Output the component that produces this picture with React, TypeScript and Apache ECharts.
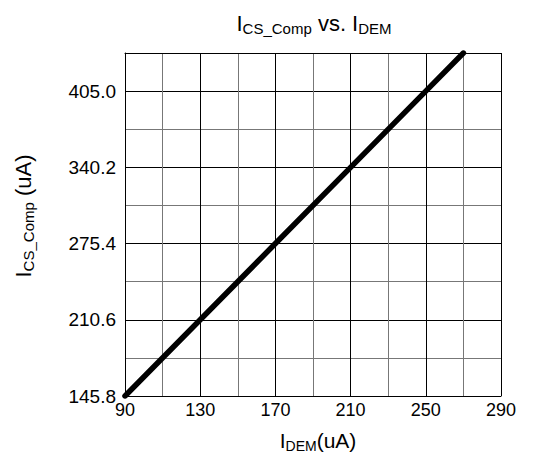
import React, { useEffect, useRef } from "react";
import * as echarts from "echarts";

const xData = [90, 130, 170, 210, 250, 270];
const yData = [145.8, 210.6, 275.4, 340.2, 405.0, 437.4];
const xTicks = [90, 130, 170, 210, 250, 290];
const yTicks = [145.8, 210.6, 275.4, 340.2, 405.0];
const xMin = 90, xMax = 290, xStep = 20;
const yMin = 145.8, yMax = 437.4, yStep = 32.4;

const FONT = "Liberation Sans, Arial, sans-serif";

export default function App() {
  const ref = useRef<HTMLDivElement>(null);
  useEffect(() => {
    const chart = echarts.init(ref.current!, null, { renderer: "svg" });
    const isTick = (arr: number[], v: number) => arr.some((t) => Math.abs(t - v) < 1e-6);
    const mkRich = (m: number, s: number) => ({
      m: { fontSize: m, fontFamily: FONT, color: "#000", lineHeight: m + 4 },
      s: { fontSize: s, fontFamily: FONT, color: "#000", lineHeight: s + 3, verticalAlign: "bottom" as const },
    });
    chart.setOption({
      animation: false,
      backgroundColor: "#fff",
      grid: { left: 125, right: 36, top: 53, bottom: 65, containLabel: false },
      xAxis: [
        {
          type: "value",
          min: xMin,
          max: xMax,
          interval: xStep,
          axisLine: { show: true, lineStyle: { color: "#000", width: 1 } },
          axisTick: { show: false },
          axisLabel: {
            color: "#000",
            fontSize: 18,
            fontFamily: FONT,
            margin: 5,
            formatter: (v: number) => (isTick(xTicks, v) ? String(Math.round(v)) : ""),
          },
          splitLine: { show: true, lineStyle: { color: ["#000", "#777"], width: 1 } },
        },
        {
          type: "value",
          position: "top",
          min: xMin,
          max: xMax,
          interval: xStep,
          axisLine: { show: true, lineStyle: { color: "#000", width: 1 } },
          axisTick: { show: false },
          axisLabel: { show: false },
          splitLine: { show: false },
        },
      ],
      yAxis: {
        type: "value",
        min: yMin,
        max: yMax,
        interval: yStep,
        axisLine: { show: true, lineStyle: { color: "#000", width: 1 } },
        axisTick: { show: false },
        axisLabel: {
          color: "#000",
          fontSize: 19,
          fontFamily: FONT,
          margin: 9,
          formatter: (v: number) => (isTick(yTicks, v) ? v.toFixed(1) : ""),
        },
        splitLine: { show: true, lineStyle: { color: ["#000", "#777"], width: 1 } },
      },
      graphic: [
        {
          type: "text",
          x: 314,
          y: 23,
          style: {
            text: "{m|I}{s|CS_Comp}{m| vs. I}{s|DEM}",
            rich: mkRich(22, 15),
            align: "center",
            verticalAlign: "middle",
          },
        },
        {
          type: "text",
          x: 318,
          y: 440,
          style: {
            text: "{m|I}{s|DEM}{m|(uA)}",
            rich: mkRich(21, 14),
            align: "center",
            verticalAlign: "middle",
          },
        },
        {
          type: "text",
          x: 23,
          y: 216,
          rotation: Math.PI / 2,
          style: {
            text: "{m|I}{s|CS_Comp}{m| (uA)}",
            rich: mkRich(22, 15),
            align: "center",
            verticalAlign: "middle",
          },
        },
      ],
      series: [
        {
          type: "line",
          data: xData.map((x, i) => [x, yData[i]]),
          showSymbol: false,
          symbol: "none",
          lineStyle: { color: "#000", width: 5.5, cap: "round" },
          z: 5,
        },
      ],
    });
    return () => chart.dispose();
  }, []);
  return (
    <div
      ref={ref}
      style={{ position: "fixed", left: 0, top: 0, width: 537, height: 461, background: "#fff" }}
    />
  );
}
